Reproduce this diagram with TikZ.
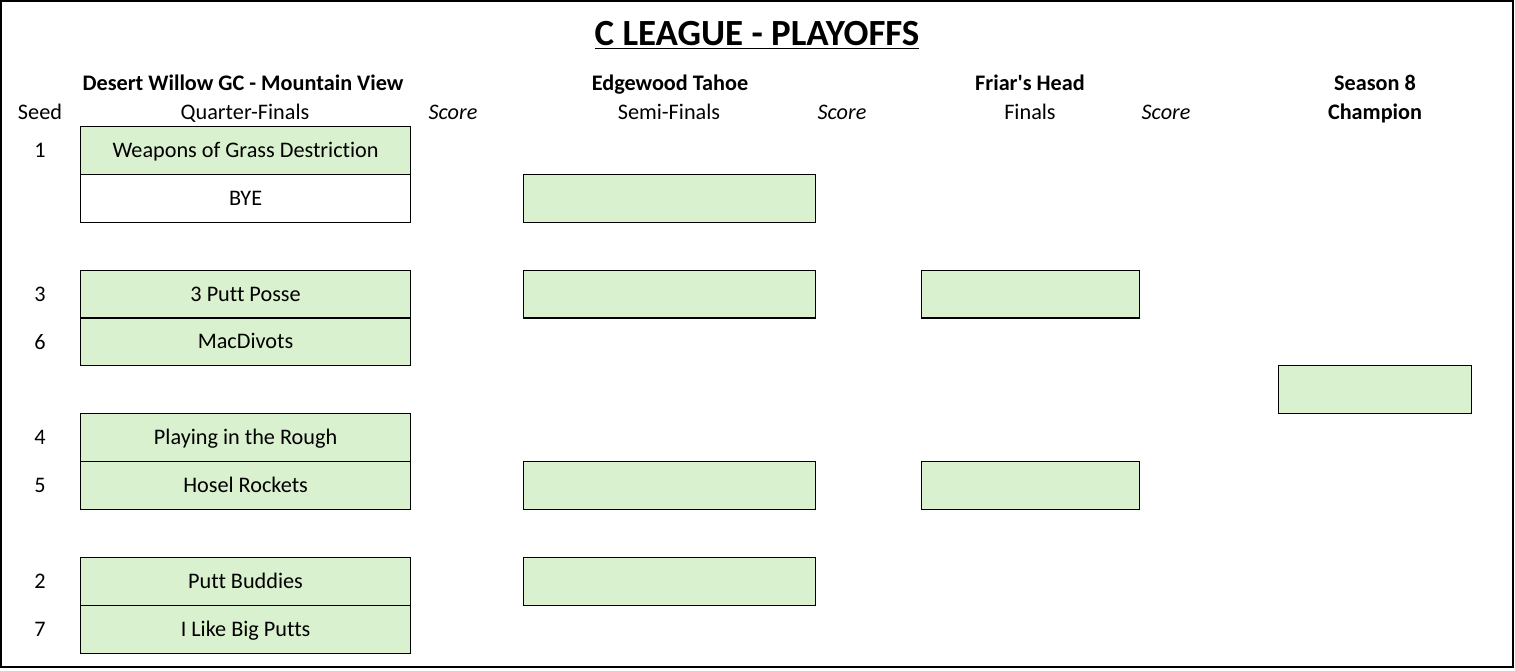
\documentclass[tikz,border=0pt]{standalone}
\usepackage{fontspec}
\setmainfont{Carlito}[Ligatures={TeX,NoCommon}]
\usetikzlibrary{positioning}
\definecolor{cellgreen}{RGB}{218,241,208}

\begin{document}
\begin{tikzpicture}[x=0.02cm, y=-0.02cm,
  every node/.style={font=\fontsize{12.65}{15}\selectfont, text height=9pt, text depth=0.5pt},
  cell/.style={draw, line width=0.7pt, fill=cellgreen, anchor=north west, inner sep=0pt, minimum height=0.955cm},
  qfcell/.style={cell, minimum width=6.6cm},
  sfcell/.style={cell, minimum width=5.84cm},
  fcell/.style={cell, minimum width=4.36cm},
  chcell/.style={cell, minimum width=3.86cm},
  head/.style={font=\fontsize{12.65}{15}\selectfont\bfseries},
  score/.style={font=\fontsize{12.65}{15}\selectfont\itshape}]
\useasboundingbox (0,0) rectangle (1515,670);
\draw[line width=0.8pt] (1,1) rectangle (1513,667);
% title
\node[font=\fontsize{21}{25}\selectfont\bfseries, text height=15pt, text depth=5pt] (title) at (757,37) {\underline{C LEAGUE - PLAYOFFS}};
% column heads
\node[head] (course1) at (243,83) {Desert Willow GC - Mountain View};
\node[head] (course2) at (670,83) {Edgewood Tahoe};
\node[head] (course3) at (1030,83) {Friar\textquotesingle s Head};
\node[head] (season) at (1375,83) {Season 8};
\node (seed) at (40,112) {Seed};
\node (quarter) at (245,112) {Quarter-Finals};
\node[score] (score1) at (453,112) {Score};
\node (semi) at (669,112) {Semi-Finals};
\node[score] (score2) at (842,112) {Score};
\node (final) at (1030,112) {Finals};
\node[score] (score3) at (1166,112) {Score};
\node[head] (champ) at (1375,112) {Champion};
% quarter-finals
\node[qfcell] (qf1) at (80,126) {Weapons of Grass Destriction};
\node[qfcell, fill=white] (qf2) at (80,174) {BYE};
\node[qfcell] (qf3) at (80,269.5) {3 Putt Posse};
\node[qfcell] (qf4) at (80,317) {MacDivots};
\node[qfcell] (qf5) at (80,413) {Playing in the Rough};
\node[qfcell] (qf6) at (80,461) {Hosel Rockets};
\node[qfcell] (qf7) at (80,557) {Putt Buddies};
\node[qfcell] (qf8) at (80,605) {I Like Big Putts};
\draw[line width=1.1pt] (qf3.south west) -- (qf3.south east);
% seeds
\node (s1) at (40,150) {1};
\node (s3) at (40,294) {3};
\node (s6) at (40,342) {6};
\node (s4) at (40,437) {4};
\node (s5) at (40,485) {5};
\node (s2) at (40,581) {2};
\node (s7) at (40,629) {7};
% semi-finals
\node[sfcell] (sf1) at (523,174) {};
\node[sfcell] (sf2) at (523,269.5) {};
\node[sfcell] (sf3) at (523,461) {};
\node[sfcell] (sf4) at (523,557) {};
\draw[line width=1.1pt] (sf2.south west) -- (sf2.south east);
% finals
\node[fcell] (f1) at (921,269.5) {};
\node[fcell] (f2) at (921,461) {};
\draw[line width=1.1pt] (f1.south west) -- (f1.south east);
% champion
\node[chcell] (winner) at (1278,365) {};
\end{tikzpicture}
\end{document}
